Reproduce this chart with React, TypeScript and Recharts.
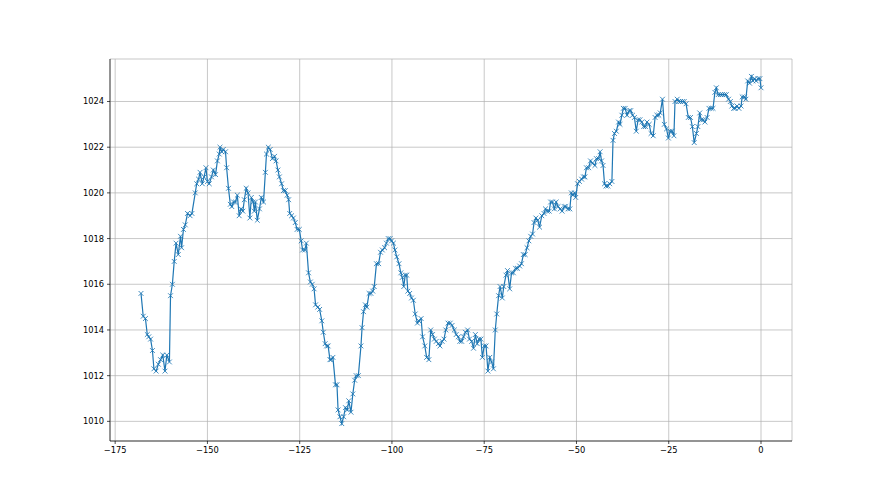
import { CartesianGrid, Line, LineChart, XAxis, YAxis } from 'recharts'

// hours before now (about one reading every half hour)
const HOURS = [
  -168.0, -167.4, -166.8, -166.3, -165.9, -165.4, -164.9, -164.5, -163.9, -163.3, -162.7, -162.1, -161.5, -161.0, -160.3,
  -160.0, -159.5, -159.0, -158.5, -157.9, -157.3, -157.0, -156.5, -156.0, -155.4, -154.7, -154.2, -153.3, -152.9, -152.4,
  -152.0, -151.4, -150.9, -150.4, -150.0, -149.5, -148.9, -148.4, -147.8, -147.3, -146.8, -146.6, -146.1, -145.7, -145.1,
  -144.8, -144.3, -143.8, -143.4, -142.9, -142.4, -141.9, -141.4, -140.9, -140.4, -140.0, -139.5, -139.0, -138.5, -138.1,
  -137.6, -137.3, -137.0, -136.5, -135.9, -135.4, -134.8, -134.3, -134.0, -133.5, -133.0, -132.4, -131.8, -131.4, -130.9,
  -130.5, -129.9, -129.4, -128.9, -128.4, -128.0, -127.7, -127.2, -126.7, -126.2, -125.7, -125.1, -124.6, -124.2, -123.6,
  -123.2, -122.6, -122.1, -121.6, -121.1, -120.7, -120.1, -119.6, -119.0, -118.6, -118.1, -117.7, -117.3, -116.8, -116.5,
  -116.0, -115.3, -114.9, -114.6, -114.1, -113.6, -113.1, -112.6, -112.1, -111.7, -111.1, -110.6, -110.1, -109.7, -109.1,
  -108.4, -108.1, -107.7, -107.2, -106.8, -106.2, -105.7, -105.2, -104.8, -104.2, -103.6, -103.1, -102.6, -102.0, -101.5,
  -101.0, -100.5, -100.1, -99.6, -99.2, -98.7, -98.1, -97.6, -97.2, -96.8, -96.4, -96.0, -95.7, -95.2, -94.7,
  -94.2, -93.7, -93.1, -92.7, -92.1, -91.7, -91.1, -90.6, -90.0, -89.5, -89.0, -88.5, -88.0, -87.4, -87.0,
  -86.4, -85.9, -85.4, -84.8, -84.2, -83.7, -83.1, -82.6, -82.0, -81.6, -81.1, -80.6, -80.1, -79.5, -79.0,
  -78.4, -77.9, -77.4, -76.9, -76.4, -75.9, -75.5, -75.0, -74.5, -74.0, -73.5, -73.0, -72.5, -72.0, -71.6,
  -71.1, -70.7, -70.1, -69.7, -69.1, -68.7, -68.1, -67.6, -67.1, -66.5, -66.0, -65.4, -64.9, -64.4, -63.9,
  -63.4, -62.9, -62.4, -61.9, -61.5, -61.0, -60.5, -60.0, -59.4, -58.8, -58.4, -57.9, -57.4, -57.0, -56.5,
  -56.0, -55.5, -55.0, -54.4, -53.9, -53.3, -52.9, -52.3, -51.8, -51.4, -51.0, -50.5, -50.2, -49.7, -49.2,
  -48.6, -48.1, -47.7, -47.3, -46.7, -46.2, -45.7, -45.0, -44.6, -44.0, -43.6, -43.2, -42.8, -42.4, -42.0,
  -41.5, -41.0, -40.4, -40.1, -39.7, -39.2, -38.6, -38.2, -37.7, -37.3, -36.8, -36.3, -35.7, -35.3, -34.8,
  -34.3, -33.8, -33.3, -32.8, -32.3, -31.8, -31.3, -30.9, -30.3, -29.8, -29.2, -28.7, -28.2, -27.7, -27.3,
  -26.7, -26.2, -25.6, -25.1, -24.6, -24.1, -23.6, -23.3, -22.7, -22.3, -21.8, -21.3, -20.8, -20.3, -19.7,
  -19.1, -18.6, -18.1, -17.5, -17.1, -16.6, -16.2, -15.7, -15.2, -14.6, -14.1, -13.5, -13.0, -12.5, -12.1,
  -11.6, -11.0, -10.5, -9.9, -9.4, -8.8, -8.3, -7.9, -7.4, -7.0, -6.5, -6.0, -5.4, -5.1, -4.5,
  -4.1, -3.6, -3.1, -2.6, -2.2, -1.7, -1.3, -0.8, -0.3, 0.0,
]

// pressure in hPa, same order as HOURS
const PRESSURE = [
  1015.6, 1014.6, 1014.5, 1013.8, 1013.7, 1013.6, 1013.1, 1012.3, 1012.2, 1012.5, 1012.7, 1012.9, 1012.2, 1012.9, 1012.6,
  1015.5, 1016.0, 1017.0, 1017.8, 1017.3, 1018.1, 1017.6, 1018.4, 1018.6, 1019.1, 1019.0, 1019.1, 1020.0, 1020.4, 1020.6,
  1020.9, 1020.4, 1020.7, 1021.1, 1020.5, 1020.4, 1020.7, 1021.0, 1020.8, 1021.4, 1021.7, 1022.0, 1021.8, 1021.9, 1021.8,
  1021.1, 1020.2, 1019.5, 1019.4, 1019.6, 1019.6, 1019.9, 1019.0, 1019.3, 1019.2, 1019.7, 1020.2, 1020.0, 1018.9, 1019.8,
  1019.6, 1019.2, 1019.6, 1018.8, 1019.3, 1019.8, 1019.6, 1020.9, 1021.7, 1022.0, 1021.9, 1021.5, 1021.6, 1021.4, 1021.0,
  1020.7, 1020.4, 1020.1, 1020.1, 1019.9, 1019.7, 1019.1, 1019.0, 1018.9, 1018.7, 1018.4, 1018.4, 1017.9, 1017.5, 1017.5,
  1017.8, 1016.5, 1016.1, 1016.0, 1015.8, 1015.1, 1015.0, 1014.9, 1014.4, 1013.9, 1013.4, 1013.3, 1013.3, 1012.7, 1012.7,
  1012.8, 1011.6, 1011.6, 1010.5, 1010.2, 1009.9, 1010.2, 1010.6, 1010.5, 1010.9, 1010.4, 1011.2, 1011.8, 1012.0, 1012.0,
  1013.3, 1014.1, 1014.8, 1015.1, 1015.0, 1015.6, 1015.6, 1015.7, 1015.9, 1016.9, 1016.9, 1017.4, 1017.5, 1017.6, 1017.8,
  1018.0, 1018.0, 1017.9, 1017.8, 1017.5, 1017.2, 1016.9, 1016.5, 1016.3, 1015.9, 1016.4, 1016.4, 1015.7, 1015.6, 1015.4,
  1015.3, 1014.7, 1014.3, 1014.4, 1014.5, 1013.7, 1013.3, 1012.8, 1012.7, 1014.0, 1013.8, 1013.6, 1013.5, 1013.4, 1013.3,
  1013.5, 1013.6, 1014.0, 1014.3, 1014.3, 1014.2, 1014.0, 1013.8, 1013.7, 1013.5, 1013.5, 1013.7, 1013.9, 1014.0, 1013.6,
  1013.5, 1013.2, 1013.8, 1013.4, 1013.6, 1013.6, 1012.8, 1013.3, 1013.3, 1012.2, 1012.8, 1012.6, 1012.3, 1014.0, 1014.7,
  1015.5, 1015.9, 1015.4, 1015.9, 1016.4, 1016.6, 1015.8, 1016.5, 1016.5, 1016.7, 1016.7, 1016.8, 1016.9, 1017.3, 1017.3,
  1017.6, 1017.9, 1018.1, 1018.2, 1018.7, 1018.9, 1018.8, 1018.5, 1019.0, 1019.1, 1019.3, 1019.2, 1019.2, 1019.6, 1019.6,
  1019.3, 1019.6, 1019.4, 1019.3, 1019.2, 1019.4, 1019.4, 1019.3, 1019.3, 1020.0, 1019.9, 1020.0, 1019.8, 1020.4, 1020.5,
  1020.6, 1020.7, 1020.7, 1021.1, 1021.1, 1021.4, 1021.3, 1021.2, 1021.5, 1021.5, 1021.8, 1021.4, 1021.2, 1020.4, 1020.3,
  1020.3, 1020.4, 1020.5, 1022.3, 1022.6, 1022.7, 1023.1, 1023.0, 1023.4, 1023.7, 1023.7, 1023.4, 1023.6, 1023.6, 1023.4,
  1023.3, 1022.7, 1023.2, 1023.2, 1023.1, 1022.9, 1022.9, 1023.1, 1023.0, 1022.6, 1022.5, 1023.3, 1023.4, 1023.4, 1023.5,
  1024.1, 1023.0, 1022.8, 1022.4, 1022.7, 1022.7, 1022.5, 1024.0, 1024.1, 1024.0, 1024.0, 1024.0, 1024.0, 1023.9, 1023.3,
  1023.3, 1022.9, 1022.2, 1022.6, 1022.9, 1023.5, 1023.2, 1023.2, 1023.1, 1023.3, 1023.7, 1023.7, 1023.7, 1024.4, 1024.6,
  1024.3, 1024.3, 1024.3, 1024.3, 1024.3, 1024.1, 1024.0, 1023.8, 1023.7, 1023.7, 1023.8, 1023.7, 1023.8, 1024.2, 1024.2,
  1024.1, 1024.9, 1024.8, 1025.1, 1024.9, 1025.0, 1024.9, 1025.0, 1025.0, 1024.6,
]

const X_TICKS = [-175, -150, -125, -100, -75, -50, -25, 0]
const Y_TICKS = [1010, 1012, 1014, 1016, 1018, 1020, 1022, 1024]

const data = HOURS.map((h, i) => ({ h, p: PRESSURE[i] }))

const BLUE = '#1f77b4'
const FONT = { fontSize: 8.3, fill: '#000', fontFamily: 'DejaVu Sans' }
const minus = (v: number) => String(v).replace('-', '\u2212')

// matplotlib style 'x' marker
const XMark = (props: any) => {
  const { cx, cy, index } = props
  if (cx == null || cy == null) return <g key={`m-${index}`} />
  const r = 2.4
  return (
    <path
      key={`m-${index}`}
      d={`M${cx - r},${cy - r}L${cx + r},${cy + r}M${cx - r},${cy + r}L${cx + r},${cy - r}`}
      stroke={BLUE}
      strokeWidth={0.85}
      fill="none"
    />
  )
}

export default function App() {
  return (
    <div style={{ width: 880, height: 495, background: '#fff' }}>
      <style>{'body{margin:0}'}</style>
      <LineChart width={880} height={495} data={data} margin={{ top: 59, right: 88, bottom: 0, left: 0 }}>
        <CartesianGrid stroke="#b0b0b0" strokeWidth={0.7} />
        <XAxis
          dataKey="h"
          type="number"
          domain={[-176.4, 8.4]}
          ticks={X_TICKS}
          tickFormatter={minus}
          height={54}
          tickSize={3}
          tickMargin={3}
          tick={FONT}
          stroke="#000"
          strokeWidth={0.7}
          allowDataOverflow
        />
        <XAxis xAxisId="top" orientation="top" height={0} tick={false} tickLine={false} stroke="#000" strokeWidth={0.7} />
        <YAxis
          type="number"
          domain={[1009.14, 1025.86]}
          ticks={Y_TICKS}
          width={110}
          tickSize={3}
          tickMargin={3}
          tick={FONT}
          stroke="#000"
          strokeWidth={0.7}
          allowDataOverflow
        />
        <YAxis yAxisId="right" orientation="right" width={0} tick={false} tickLine={false} stroke="#000" strokeWidth={0.7} />
        <Line
          dataKey="p"
          type="linear"
          stroke={BLUE}
          strokeWidth={1.2}
          dot={XMark}
          activeDot={false}
          isAnimationActive={false}
        />
      </LineChart>
    </div>
  )
}
